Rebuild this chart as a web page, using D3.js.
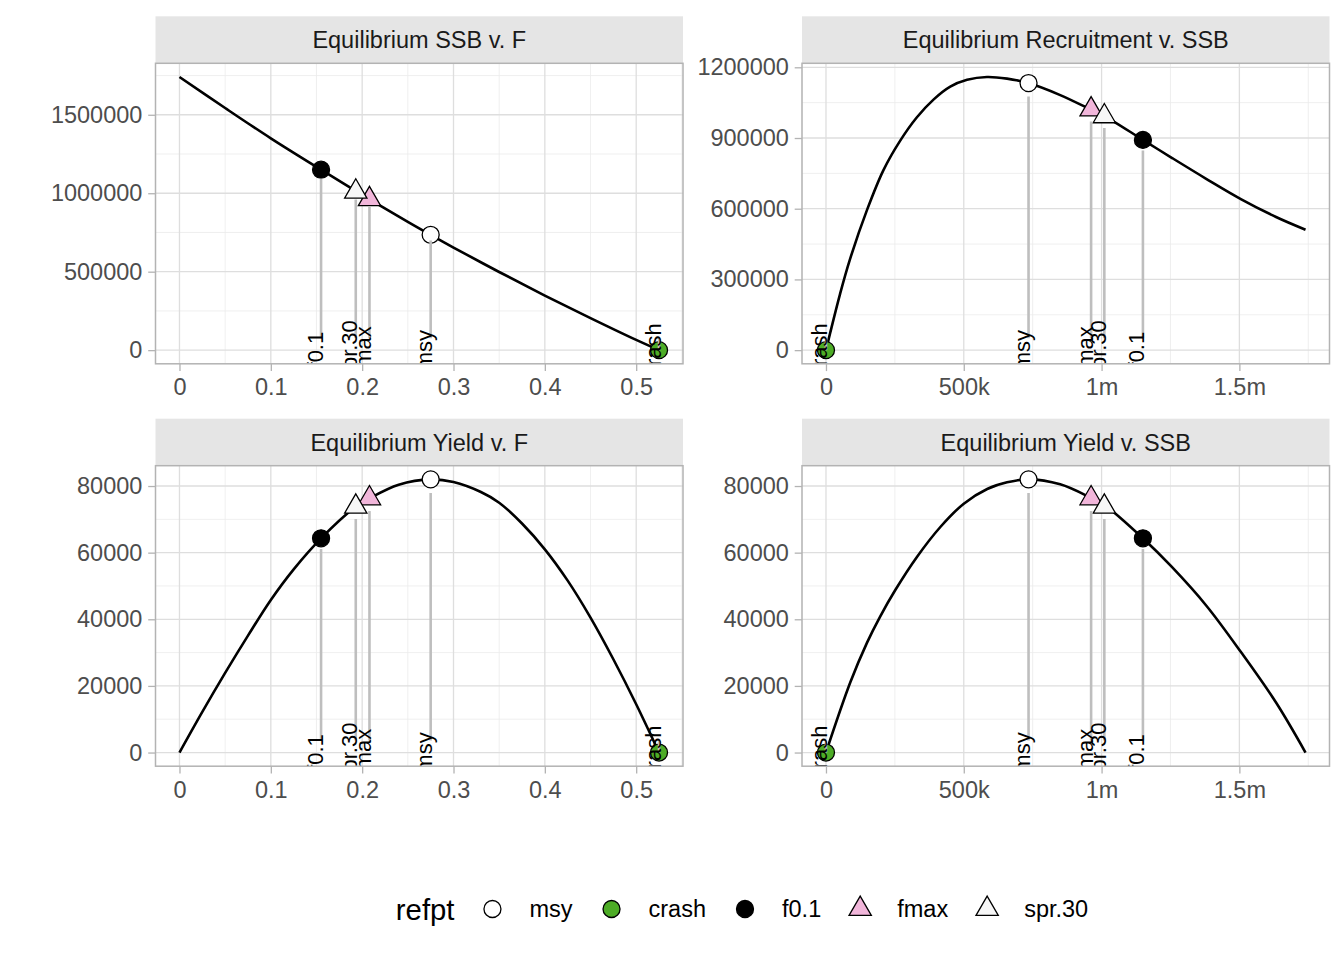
<!DOCTYPE html>
<html>
<head>
<meta charset="utf-8">
<script src="https://cdn.jsdelivr.net/npm/d3@7"></script>
<style>
  body { margin: 0; background: #fff; }
  text { font-family: "Liberation Sans", Arial, Helvetica, sans-serif; }
</style>
</head>
<body>
<div id="chart"></div>
<script>

// equilibrium SSB v. F
var ssbCurveF   = [0, 0.05, 0.1, 0.155, 0.2, 0.25, 0.275, 0.3, 0.35, 0.4, 0.45, 0.5, 0.525];
var ssbCurveSSB = [1741000, 1543000, 1350000, 1150000, 990000, 818000, 735000, 654000, 498000, 348000, 204000, 65000, 0];

// equilibrium recruitment v. SSB
var recCurveSSB = [0, 15000, 51000, 87000, 149000, 209000, 270000, 330000, 391000, 451000, 512000, 584000, 657000, 734000, 850000, 960000, 1012000, 1150000, 1256000, 1381000, 1507000, 1633000, 1740000];
var recCurveRec = [0, 72000, 238000, 385000, 595000, 765000, 890000, 988000, 1064000, 1118000, 1147000, 1159000, 1152000, 1133000, 1082000, 1021000, 992000, 892000, 815000, 726000, 640000, 565000, 511000];

// equilibrium yield v. F
var yieldCurveF = [0, 0.025, 0.05, 0.075, 0.1, 0.125, 0.155, 0.193, 0.208, 0.24, 0.275, 0.3, 0.33, 0.35, 0.375, 0.4, 0.425, 0.45, 0.475, 0.5, 0.525];
var yieldCurveY = [0, 12200, 23900, 35100, 45800, 55000, 64300, 73800, 76300, 80400, 82000, 81200, 78200, 75000, 68750, 61000, 51600, 40500, 28000, 14500, 0];

// equilibrium yield v. SSB
var yssbCurveSSB = [0, 88000, 149000, 197000, 251000, 330000, 415000, 500000, 585000, 657000, 734000, 850000, 960000, 1012000, 1150000, 1255000, 1381000, 1507000, 1633000, 1740000];
var yssbCurveY   = [0, 21000, 33000, 40900, 48700, 58700, 67700, 74700, 79100, 81100, 82000, 80500, 76500, 74200, 64300, 55700, 44000, 30000, 15000, 0];

// reference points
var refptNames = ["msy", "crash", "f0.1", "fmax", "spr.30"];
var refptF     = [0.275, 0.525, 0.155, 0.208, 0.193];
var refptSSB   = [735000, 0, 1150000, 962000, 1010000];
var refptRec   = [1133000, 0, 892000, 1021000, 992000];
var refptYield = [82000, 0, 64300, 76300, 73800];
var refptFill  = ["#ffffff", "#4dac26", "#000000", "#f1b6da", "#f7f7f7"];
var refptShape = ["circle", "circle", "circle", "triangle", "triangle"];

// tick labels
var fTicks = [0, 0.1, 0.2, 0.3, 0.4, 0.5];
var fTickLabels = ["0", "0.1", "0.2", "0.3", "0.4", "0.5"];
var ssbTicks = [0, 500000, 1000000, 1500000];
var ssbTickLabels = ["0", "500k", "1m", "1.5m"];
var ssbYTicks = [0, 500000, 1000000, 1500000];
var recTicks = [0, 300000, 600000, 900000, 1200000];
var yieldTicks = [0, 20000, 40000, 60000, 80000];

var W = 1344, H = 960;
var colLeft = [155.5, 802], panelW = 527.5;
var rowTop = [63.3, 465.7], panelH = 300.5, stripH = 47;
var fontMain = 23.5;

var svg = d3.select('#chart').append('svg')
  .attr('width', W).attr('height', H)
  .style('background', '#fff');

function zip(a, b) { return a.map(function(d, i) { return [d, b[i]]; }); }

function expand(vals) {
  var e = d3.extent(vals), pad = (e[1] - e[0]) * 0.05;
  return [e[0] - pad, e[1] + pad];
}

function minorBreaks(ticks, dom) {
  var step = ticks[1] - ticks[0], out = [];
  for (var v = ticks[0] - step / 2; v <= dom[1]; v += step) {
    if (v >= dom[0]) out.push(v);
  }
  return out;
}

var panels = [
  { title: "Equilibrium SSB v. F", col: 0, row: 0,
    curve: zip(ssbCurveF, ssbCurveSSB), rx: refptF, ry: refptSSB,
    xt: fTicks, xl: fTickLabels, yt: ssbYTicks },
  { title: "Equilibrium Recruitment v. SSB", col: 1, row: 0,
    curve: zip(recCurveSSB, recCurveRec), rx: refptSSB, ry: refptRec,
    xt: ssbTicks, xl: ssbTickLabels, yt: recTicks },
  { title: "Equilibrium Yield v. F", col: 0, row: 1,
    curve: zip(yieldCurveF, yieldCurveY), rx: refptF, ry: refptYield,
    xt: fTicks, xl: fTickLabels, yt: yieldTicks },
  { title: "Equilibrium Yield v. SSB", col: 1, row: 1,
    curve: zip(yssbCurveSSB, yssbCurveY), rx: refptSSB, ry: refptYield,
    xt: ssbTicks, xl: ssbTickLabels, yt: yieldTicks }
];

function symbolPath(shape) {
  return shape === "triangle"
    ? d3.symbol(d3.symbolTriangle, 215)()
    : d3.symbol(d3.symbolCircle, 227)();
}

panels.forEach(function(p, k) {
  var left = colLeft[p.col], top = rowTop[p.row];
  var xDom = expand(p.curve.map(function(d) { return d[0]; }).concat(p.rx));
  var yDom = expand(p.curve.map(function(d) { return d[1]; }).concat(p.ry));
  var x = d3.scaleLinear().domain(xDom).range([left, left + panelW]);
  var y = d3.scaleLinear().domain(yDom).range([top + panelH, top]);

  // strip
  svg.append('rect')
    .attr('x', left).attr('y', top - stripH)
    .attr('width', panelW).attr('height', stripH)
    .attr('fill', '#e5e5e5');
  svg.append('text')
    .attr('x', left + panelW / 2).attr('y', top - stripH / 2)
    .attr('dy', '0.36em')
    .attr('text-anchor', 'middle')
    .attr('font-size', fontMain)
    .attr('fill', '#1a1a1a')
    .text(p.title);

  var clipId = 'clip' + k;
  svg.append('clipPath').attr('id', clipId)
    .append('rect')
    .attr('x', left).attr('y', top).attr('width', panelW).attr('height', panelH);

  var g = svg.append('g').attr('clip-path', 'url(#' + clipId + ')');

  // grid
  g.selectAll('.minx').data(minorBreaks(p.xt, xDom)).enter().append('line')
    .attr('x1', x).attr('x2', x).attr('y1', top).attr('y2', top + panelH)
    .attr('stroke', '#ebebeb').attr('stroke-width', 0.8);
  g.selectAll('.miny').data(minorBreaks(p.yt, yDom)).enter().append('line')
    .attr('y1', y).attr('y2', y).attr('x1', left).attr('x2', left + panelW)
    .attr('stroke', '#ebebeb').attr('stroke-width', 0.8);
  g.selectAll('.majx').data(p.xt).enter().append('line')
    .attr('x1', x).attr('x2', x).attr('y1', top).attr('y2', top + panelH)
    .attr('stroke', '#dedede').attr('stroke-width', 1.3);
  g.selectAll('.majy').data(p.yt).enter().append('line')
    .attr('y1', y).attr('y2', y).attr('x1', left).attr('x2', left + panelW)
    .attr('stroke', '#dedede').attr('stroke-width', 1.3);

  // curve
  var line = d3.line().x(function(d) { return x(d[0]); }).y(function(d) { return y(d[1]); })
    .curve(d3.curveCatmullRom.alpha(0.5));
  g.append('path')
    .datum(p.curve)
    .attr('d', line)
    .attr('fill', 'none')
    .attr('stroke', '#000')
    .attr('stroke-width', 2.6);

  var refs = refptNames.map(function(n, i) {
    return { name: n, x: p.rx[i], y: p.ry[i], fill: refptFill[i], shape: refptShape[i] };
  });

  // points
  g.selectAll('.pt').data(refs).enter().append('path')
    .attr('d', function(d) { return symbolPath(d.shape); })
    .attr('transform', function(d) { return 'translate(' + x(d.x) + ',' + y(d.y) + ')'; })
    .attr('fill', function(d) { return d.fill; })
    .attr('stroke', '#000')
    .attr('stroke-width', 1.3);

  // drop lines
  g.selectAll('.seg').data(refs).enter().append('line')
    .attr('x1', function(d) { return x(d.x); })
    .attr('x2', function(d) { return x(d.x); })
    .attr('y1', function(d) { return y(d.y * 0.95); })
    .attr('y2', y(0) - 12)
    .attr('stroke', '#bebebe')
    .attr('stroke-width', 2.6);

  // labels
  g.selectAll('.lab').data(refs).enter().append('text')
    .attr('transform', function(d) { return 'translate(' + (x(d.x) + 1.5) + ',' + y(0) + ') rotate(-90)'; })
    .attr('text-anchor', 'middle')
    .attr('font-size', 22)
    .attr('fill', '#000')
    .text(function(d) { return d.name; });

  // border
  svg.append('rect')
    .attr('x', left).attr('y', top).attr('width', panelW).attr('height', panelH)
    .attr('fill', 'none').attr('stroke', '#b3b3b3').attr('stroke-width', 1.5);

  // axes
  var xAxis = svg.append('g')
    .attr('transform', 'translate(0,' + (top + panelH) + ')')
    .call(d3.axisBottom(x).tickValues(p.xt)
      .tickFormat(function(d, i) { return p.xl[i]; })
      .tickSize(7.3).tickPadding(7.5));
  var yAxis = svg.append('g')
    .attr('transform', 'translate(' + left + ',0)')
    .call(d3.axisLeft(y).tickValues(p.yt)
      .tickFormat(function(d) { return String(d); })
      .tickSize(7.3).tickPadding(5.8));
  [xAxis, yAxis].forEach(function(a) {
    a.select('.domain').remove();
    a.selectAll('line').attr('stroke', '#b3b3b3').attr('stroke-width', 1.3);
    a.selectAll('text').attr('font-size', fontMain).attr('fill', '#4d4d4d')
      .attr('font-family', '"Liberation Sans", Arial, Helvetica, sans-serif');
  });
});

// legend
var legend = svg.append('g');
var legY = 909;
var title = legend.append('text')
  .attr('x', 0).attr('y', legY).attr('dy', '0.36em')
  .attr('font-size', 29.3).attr('fill', '#000')
  .text('refpt');
var cx = title.node().getComputedTextLength() + 38;
refptNames.forEach(function(n, i) {
  legend.append('path')
    .attr('d', symbolPath(refptShape[i]))
    .attr('transform', 'translate(' + cx + ',' + legY + ')')
    .attr('fill', refptFill[i])
    .attr('stroke', '#000')
    .attr('stroke-width', 1.3);
  var t = legend.append('text')
    .attr('x', cx + 37).attr('y', legY).attr('dy', '0.36em')
    .attr('font-size', fontMain).attr('fill', '#000')
    .text(n);
  cx = cx + 37 + t.node().getComputedTextLength() + 39;
});
var legW = cx - 39;
legend.attr('transform', 'translate(' + (742 - legW / 2) + ',0)');

</script>
</body>
</html>
